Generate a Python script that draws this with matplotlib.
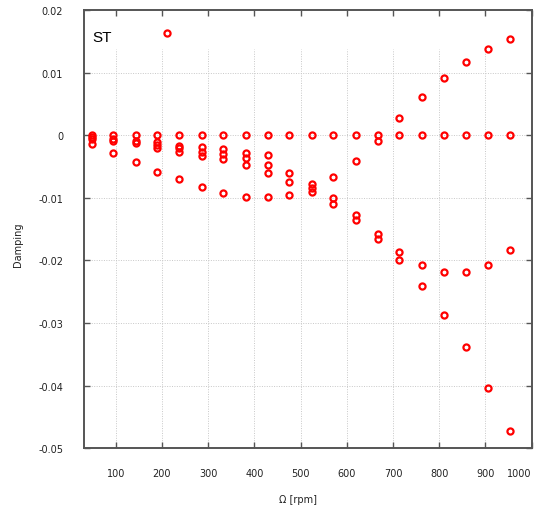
import numpy as np
import matplotlib
matplotlib.use("Agg")
import matplotlib.pyplot as plt

nan = np.nan

# Rotor speed [rpm]
omega = [48, 95, 143, 190, 238, 286, 333, 381, 429, 476,
         524, 571, 619, 667, 714, 762, 810, 857, 905, 952]

# Damping of the individual modes (NaN = not present)
mode_zero = [0.0] * 20
mode_a = [-0.0003, -0.0006, -0.0009, -0.0011, -0.0017, -0.0019, -0.0022, -0.0028, -0.0031, -0.0061,
          -0.0078, -0.0067, -0.0041, -0.0009, 0.0028, 0.0061, 0.0091, 0.0117, 0.0137, 0.0154]
mode_b = [-0.0006, -0.0009, -0.0013, -0.0015, -0.0021, -0.0026, -0.0030, -0.0036, -0.0047, -0.0074,
          -0.0085, -0.0101, -0.0128, -0.0157, -0.0186, -0.0208, -0.0218, -0.0218, -0.0208, -0.0184]
mode_c = [nan, nan, nan, -0.0020, -0.0026, -0.0033, -0.0038, -0.0047, -0.0060, nan,
          -0.0091, -0.0110, -0.0136, -0.0165, -0.0200, -0.0240, -0.0287, -0.0339, -0.0403, -0.0472]
mode_d = [-0.0014, -0.0029, -0.0043, -0.0058, -0.0070, -0.0083, -0.0092, -0.0098, -0.0099, -0.0096,
          nan, nan, nan, nan, nan, nan, nan, nan, nan, nan]
outlier_x = [211]
outlier_y = [0.0163]

x_ticks = [100, 200, 300, 400, 500, 600, 700, 800, 900, 1000]
y_ticks = [-0.05, -0.04, -0.03, -0.02, -0.01, 0.0, 0.01, 0.02]
y_tick_labels = ["-0.05", "-0.04", "-0.03", "-0.02", "-0.01", "0", "0.01", "0.02"]

plt.rcParams['font.family'] = ['DejaVu Sans']

fig = plt.figure(figsize=(5.41, 5.10), dpi=100)
ax = fig.add_axes([84 / 541, 1 - 449.3 / 510, (531.7 - 84) / 541, (449.3 - 11) / 510])

xmin, xmax = 31.5, 1000
ymin, ymax = -0.05, 0.02
ax.set_xlim(xmin, xmax)
ax.set_ylim(ymin, ymax)

grid_col = '#c8c8c8'
# horizontal grid
for yv in y_ticks[1:-1]:
    ax.axhline(yv, color=grid_col, lw=0.7, ls=(0, (1, 1.5)), zorder=0)
# vertical grid (stops below the label area)
ax.vlines(x_ticks[:-1], ymin, 0.0137, colors=grid_col, lw=0.7, linestyles=[(0, (1, 1.5))], zorder=0)

mk = dict(ls='none', marker='o', mfc='none', mec='#ff0000', ms=4.4, mew=1.6, zorder=3, clip_on=False)
for series in [mode_zero, mode_a, mode_b, mode_c, mode_d]:
    ax.plot(omega, series, **mk)
ax.plot(outlier_x, outlier_y, **mk)

frame_col = '#555555'
for s in ax.spines.values():
    s.set_color(frame_col)
    s.set_linewidth(1.4)

ax.set_xticks(x_ticks)
ax.set_xticklabels([str(v) for v in x_ticks])
ax.set_yticks(y_ticks)
ax.set_yticklabels(y_tick_labels)
ax.tick_params(axis='both', direction='in', length=4.5, width=1.0, color=frame_col,
               top=True, right=True, labelsize=7, labelcolor='#222222')
ax.tick_params(axis='x', pad=14)
ax.tick_params(axis='y', pad=15)
ax.get_xticklabels()[-1].set_horizontalalignment('right')

fig.text(92 / 541, 1 - 38 / 510, 'ST', fontsize=11, family=['Liberation Sans', 'DejaVu Sans'],
         ha='left', va='center', color='#000000')

fig.text(298 / 541, 1 - 500 / 510, 'Ω [rpm]', fontsize=7, ha='center', va='center', color='#222222')
fig.text(18 / 541, 1 - 245 / 510, 'Damping', fontsize=7, ha='center', va='center', rotation=90,
         color='#222222')

fig.savefig('out.png', dpi=100)
